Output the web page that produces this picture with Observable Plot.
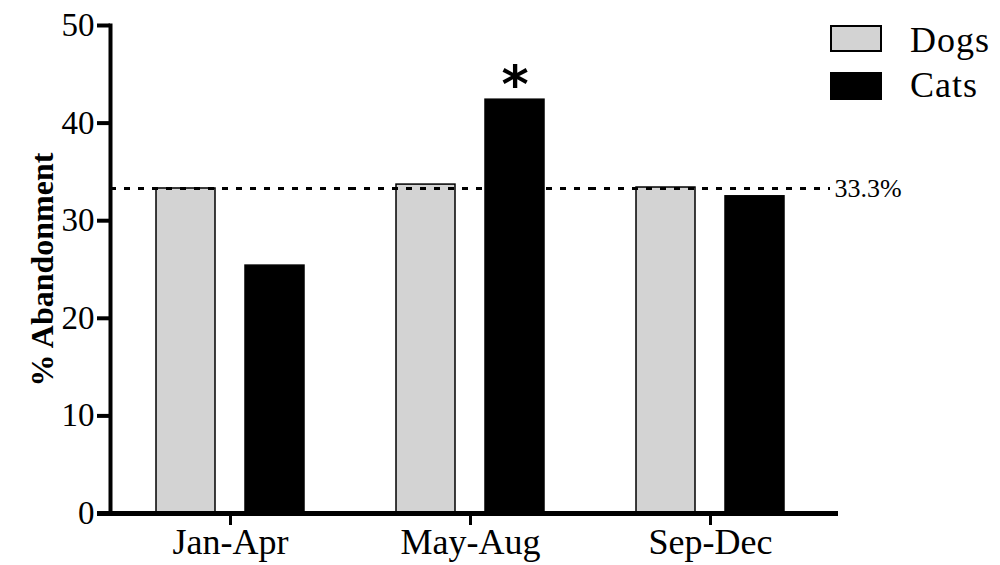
<!DOCTYPE html>
<html><head><meta charset="utf-8">
<script src="https://cdn.jsdelivr.net/npm/d3@7"></script>
<script src="https://cdn.jsdelivr.net/npm/@observablehq/plot@0.6"></script>
<style>
body{margin:0;background:#fff}
#wrap{position:relative;width:1000px;height:565px;font-family:"Liberation Serif","Times New Roman",Tinos,Times,"DejaVu Serif",serif}
.sw{position:absolute;left:830px;width:52px;height:27px;box-sizing:border-box;border:2px solid #000}
.lt{position:absolute;left:910px;font-size:36px;line-height:36px;color:#000;white-space:nowrap;letter-spacing:1px}
</style>
</head><body><div id="wrap"></div>
<script>
const periods = ["Jan-Apr", "May-Aug", "Sep-Dec"];
const species = ["Dogs", "Cats"];
const dogs = [33.3, 33.7, 33.4];
const cats = [25.4, 42.4, 32.5];
const expected = 33.3;
const expectedLabel = "33.3%";
const sigPeriod = "May-Aug";
const sigSpecies = "Cats";
const yTicks = [0, 10, 20, 30, 40, 50];
const yLabel = "% Abandonment";
const colors = {Dogs: "#d3d3d3", Cats: "#000000"};
const serif = "'Liberation Serif', 'Times New Roman', Tinos, Times, 'DejaVu Serif', serif";

const data = [];
periods.forEach((p, i) => {
  data.push({period: p, species: "Dogs", value: dogs[i]});
  data.push({period: p, species: "Cats", value: cats[i]});
});

const chart = Plot.plot({
  width: 1000, height: 565,
  marginLeft: 110, marginRight: 170, marginTop: 25, marginBottom: 52,
  style: {fontFamily: serif, fontSize: "33px", color: "#000", background: "#fff", overflow: "visible"},
  fx: {domain: periods, padding: 0, label: null},
  x: {domain: species, paddingInner: 1/3, paddingOuter: 0.5, axis: null},
  y: {domain: [0, 50]},
  color: {domain: species, range: species.map(s => colors[s])},
  marks: [
    Plot.barY(data, {fx: "period", x: "species", y: "value", fill: "species", stroke: "#000", strokeWidth: 1.5}),
    Plot.ruleY([expected], {stroke: "#000", strokeWidth: 3, strokeDasharray: "6,8"}),
    Plot.text([expectedLabel], {fx: ["Sep-Dec"], frameAnchor: "right", y: [expected], text: d => d, textAnchor: "start", dx: 4, fontSize: 26}),
    Plot.text(data.filter(d => d.period === sigPeriod && d.species === sigSpecies), {fx: "period", x: "species", y: "value", text: () => "*", fontWeight: "bold", fontSize: 52, fontFamily: "'DejaVu Sans', sans-serif", lineAnchor: "bottom", dy: 2}),
    Plot.ruleY([0], {stroke: "#000", strokeWidth: 5, insetLeft: -13, insetRight: -8}),
    Plot.frame({anchor: "left", facetAnchor: "left", stroke: "#000", strokeWidth: 4}),
    Plot.axisY({ticks: yTicks, tickSize: 13, tickPadding: 3, strokeWidth: 4, label: null}),
    Plot.axisY({ticks: [], label: yLabel, labelAnchor: "center", labelOffset: 80, labelArrow: "none", fontWeight: "bold", fontSize: 32, style: "letter-spacing: 3.5px"}),
    Plot.axisFx({anchor: "bottom", tickSize: 12, tickPadding: 3, strokeWidth: 3, fontSize: 36, label: null})
  ]
});
const wrap = document.getElementById("wrap");
wrap.appendChild(chart);
species.forEach((s, i) => {
  const sw = document.createElement("div");
  sw.className = "sw";
  sw.style.top = (i === 0 ? 25 : 72) + "px";
  sw.style.height = (i === 0 ? 27 : 28) + "px";
  sw.style.background = colors[s];
  wrap.appendChild(sw);
  const t = document.createElement("div");
  t.className = "lt";
  t.style.top = (i === 0 ? 22 : 67) + "px";
  t.textContent = s;
  wrap.appendChild(t);
});
</script>
</body></html>
